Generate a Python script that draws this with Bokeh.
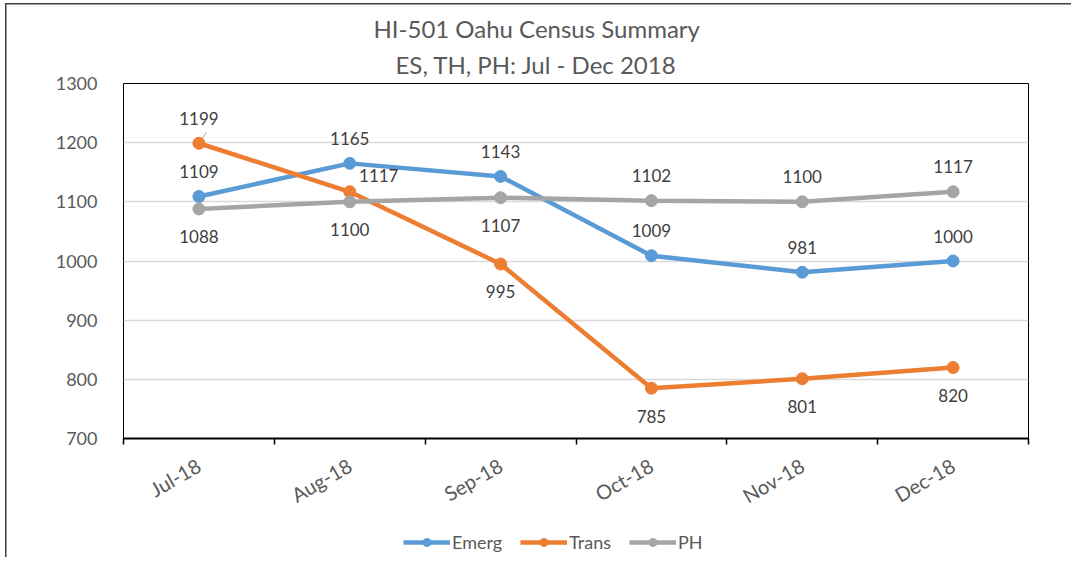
from bokeh.plotting import figure
from bokeh.models import Range1d, FixedTicker, Title, Legend, LegendItem, ColumnDataSource
from bokeh.layouts import column
from bokeh.core.properties import value
from bokeh.embed import file_html
from bokeh.resources import INLINE
import math

months = ["Jul-18", "Aug-18", "Sep-18", "Oct-18", "Nov-18", "Dec-18"]
emerg = [1109, 1165, 1143, 1009, 981, 1000]
trans = [1199, 1117, 995, 785, 801, 820]
ph = [1088, 1100, 1107, 1102, 1100, 1117]
y_ticks = [700, 800, 900, 1000, 1100, 1200, 1300]
title_lines = ["HI-501 Oahu Census Summary", "ES, TH, PH: Jul - Dec 2018"]

# label placement per point: (dx, dy) in screen pixels
A, B = -25, 28
emerg_off = [(0, A)] * 6
trans_off = [(0, A), (29, -16), (0, B), (0, B), (0, B), (0, B)]
ph_off = [(0, B), (0, B), (0, B), (0, A), (0, A), (0, A)]

FONT = "Lato"
TXT = "#595959"
LBL = "#404040"

xs = [i + 0.5 for i in range(len(months))]

p = figure(width=1071, height=520, output_backend="svg", toolbar_location=None,
           x_range=Range1d(0, len(months)), y_range=Range1d(y_ticks[0], y_ticks[-1]),
           min_border_left=123, min_border_right=43, min_border_top=83, min_border_bottom=82)
p.background_fill_color = "white"
p.border_fill_alpha = 0
p.outline_line_color = "black"
p.outline_line_width = 1

p.xgrid.grid_line_color = None
p.ygrid.ticker = FixedTicker(ticks=y_ticks)
p.ygrid.grid_line_color = "#d9d9d9"
p.ygrid.grid_line_width = 1.5

yax = p.yaxis[0]
yax.ticker = FixedTicker(ticks=y_ticks)
yax.axis_line_color = None
yax.major_tick_line_color = None
yax.minor_tick_line_color = None
yax.major_label_text_font = FONT
yax.major_label_text_font_size = "18px"
yax.major_label_text_color = TXT
yax.major_label_standoff = 20

xax = p.xaxis[0]
xax.ticker = FixedTicker(ticks=xs, minor_ticks=list(range(len(months) + 1)))
xax.major_label_overrides = {x: m for x, m in zip(xs, months)}
xax.axis_line_color = "black"
xax.axis_line_width = 2
xax.major_tick_line_color = None
xax.major_tick_out = 0
xax.major_tick_in = 0
xax.minor_tick_line_color = "black"
xax.minor_tick_line_width = 1.5
xax.minor_tick_out = 6
xax.minor_tick_in = 0
xax.major_label_orientation = math.pi / 6
xax.major_label_text_font = FONT
xax.major_label_text_font_size = "20px"
xax.major_label_text_color = TXT
xax.major_label_standoff = 19

series = [("Emerg", emerg, "#5B9BD5", emerg_off),
          ("Trans", trans, "#ED7D31", trans_off),
          ("PH", ph, "#A5A5A5", ph_off)]

# small leader line for the first Trans label
p.segment(x0=[xs[0] + 0.012], y0=[trans[0] + 3], x1=[xs[0] + 0.048], y1=[trans[0] + 18],
          line_color="#a6a6a6", line_width=1)

for name, vals, color, offs in series:
    src = ColumnDataSource(dict(x=xs, y=vals, t=[str(v) for v in vals],
                                dx=[o[0] for o in offs], dy=[o[1] for o in offs]))
    p.line("x", "y", source=src, line_color=color, line_width=4.5)
    p.scatter("x", "y", source=src, size=12, fill_color=color, line_color=color)
    p.text("x", "y", text="t", source=src, x_offset="dx", y_offset="dy",
           text_font=value(FONT), text_font_size="17px", text_color=LBL,
           text_align="center", text_baseline="middle")

t2 = Title(text=title_lines[1], align="left", offset=272, text_font=FONT,
           text_font_size="24px", text_color=TXT, text_font_style="normal", standoff=9)
t1 = Title(text=title_lines[0], align="left", offset=250, text_font=FONT,
           text_font_size="24px", text_color=TXT, text_font_style="normal", standoff=1)
p.add_layout(t2, "above")
p.add_layout(t1, "above")

# legend strip below the chart (proxy renderers kept outside the visible range)
lf = figure(width=1071, height=37, output_backend="svg", toolbar_location=None,
            x_range=Range1d(0, 1), y_range=Range1d(0, 1), min_border=0,
            x_axis_type=None, y_axis_type=None)
lf.outline_line_color = None
lf.xgrid.grid_line_color = None
lf.ygrid.grid_line_color = None
lf.background_fill_alpha = 0
lf.border_fill_alpha = 0
items = []
for name, vals, color, offs in series:
    r1 = lf.line(x=[5, 6], y=[5, 5], line_color=color, line_width=4.5)
    r2 = lf.scatter(x=[5], y=[5], size=12, fill_color=color, line_color=color)
    items.append(LegendItem(label=name, renderers=[r1, r2]))
legend = Legend(items=items, orientation="horizontal", location=(280, 4),
                border_line_color=None, background_fill_alpha=0,
                padding=0, margin=0, spacing=18, glyph_width=47, glyph_height=20,
                label_standoff=2, label_text_font=FONT, label_text_font_size="18px",
                label_text_color=TXT)
lf.add_layout(legend)

layout = column(p, lf, spacing=0,
                styles={"box-shadow": "inset 5px 3px 0 0 white, inset 6.5px 4.5px 0 0 #404040",
                        "background": "white"})

open("out.html", "w").write(file_html(layout, INLINE))
